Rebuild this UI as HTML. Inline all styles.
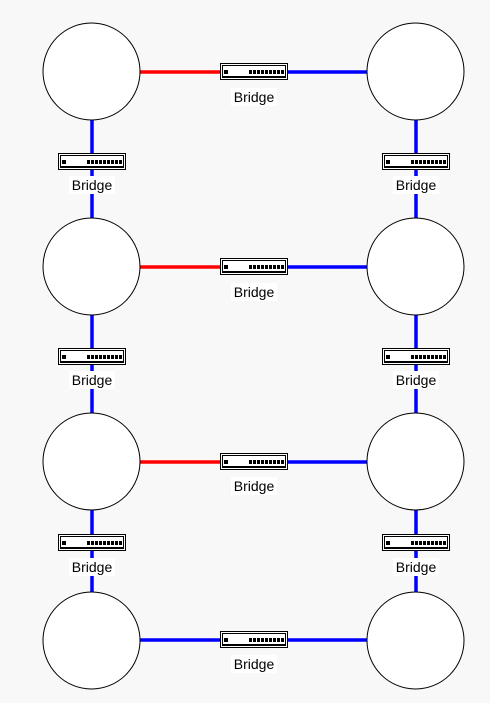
<!DOCTYPE html>
<html><head><meta charset="utf-8"><style>
html,body{margin:0;padding:0;background:#f8f8f8;}
svg{display:block;}
text{font-family:"Liberation Sans",Arial,sans-serif;font-size:14px;}
</style></head><body>
<svg width="490" height="703" viewBox="0 0 490 703" xmlns="http://www.w3.org/2000/svg">
<defs>
<g id="br">
<rect x="0.5" y="0.5" width="67" height="16" fill="#fff" stroke="#000" stroke-width="1"/>
<rect x="2.5" y="2.5" width="63" height="11" fill="none" stroke="#000" stroke-width="1"/>
<line x1="2" y1="14.5" x2="66" y2="14.5" stroke="#000" stroke-width="1"/>
<rect x="4" y="7" width="4" height="4" fill="#000"/>
<rect x="29" y="7" width="35" height="4" fill="#000"/>
<g stroke="#fff" stroke-width="1">
<line x1="32.5" y1="7" x2="32.5" y2="11"/><line x1="36.5" y1="7" x2="36.5" y2="11"/>
<line x1="40.5" y1="7" x2="40.5" y2="11"/><line x1="44.5" y1="7" x2="44.5" y2="11"/>
<line x1="48.5" y1="7" x2="48.5" y2="11"/><line x1="52.5" y1="7" x2="52.5" y2="11"/>
<line x1="56.5" y1="7" x2="56.5" y2="11"/><line x1="60.5" y1="7" x2="60.5" y2="11"/>
</g>
</g>
</defs>
<!-- vertical lines -->
<g stroke="#0000ff" stroke-width="3.5">
<line x1="92" y1="120" x2="92" y2="218"/>
<line x1="416" y1="120" x2="416" y2="218"/>
<line x1="92" y1="314" x2="92" y2="413"/>
<line x1="416" y1="314" x2="416" y2="413"/>
<line x1="92" y1="509" x2="92" y2="592"/>
<line x1="416" y1="509" x2="416" y2="592"/>
<line x1="254" y1="72" x2="368" y2="72"/>
<line x1="254" y1="267" x2="368" y2="267"/>
<line x1="254" y1="462" x2="368" y2="462"/>
<line x1="140" y1="640" x2="368" y2="640"/>
</g>
<g stroke="#ff0000" stroke-width="3.5">
<line x1="140" y1="72" x2="254" y2="72"/>
<line x1="140" y1="267" x2="254" y2="267"/>
<line x1="140" y1="462" x2="254" y2="462"/>
</g>
<!-- circles -->
<g fill="#fff" stroke="#000" stroke-width="1">
<circle cx="91.5" cy="71.5" r="48.5"/><circle cx="415.5" cy="71.5" r="48.5"/>
<circle cx="91.5" cy="266.5" r="48.5"/><circle cx="415.5" cy="266.5" r="48.5"/>
<circle cx="91.5" cy="461.5" r="48.5"/><circle cx="415.5" cy="461.5" r="48.5"/>
<circle cx="91.5" cy="640.5" r="48.5"/><circle cx="415.5" cy="640.5" r="48.5"/>
</g>
<!-- bridges -->
<use href="#br" x="220" y="63"/>
<use href="#br" x="220" y="258"/>
<use href="#br" x="220" y="453"/>
<use href="#br" x="220" y="631"/>
<use href="#br" x="58" y="153"/><use href="#br" x="382" y="153"/>
<use href="#br" x="58" y="348"/><use href="#br" x="382" y="348"/>
<use href="#br" x="58" y="534"/><use href="#br" x="382" y="534"/>
<!-- labels -->
<g fill="#fff">
<rect x="231" y="88" width="46" height="18"/>
<rect x="231" y="283" width="46" height="18"/>
<rect x="231" y="477" width="46" height="18"/>
<rect x="231" y="655" width="46" height="18"/>
<rect x="69" y="176" width="46" height="18"/><rect x="393" y="176" width="46" height="18"/>
<rect x="69" y="371" width="46" height="18"/><rect x="393" y="371" width="46" height="18"/>
<rect x="69" y="558" width="46" height="18"/><rect x="393" y="558" width="46" height="18"/>
</g>
<g fill="#000" text-anchor="middle">
<text x="254" y="102">Bridge</text>
<text x="254" y="297">Bridge</text>
<text x="254" y="491">Bridge</text>
<text x="254" y="669">Bridge</text>
<text x="92" y="190">Bridge</text><text x="416" y="190">Bridge</text>
<text x="92" y="385">Bridge</text><text x="416" y="385">Bridge</text>
<text x="92" y="572">Bridge</text><text x="416" y="572">Bridge</text>
</g>
</svg>
</body></html>
